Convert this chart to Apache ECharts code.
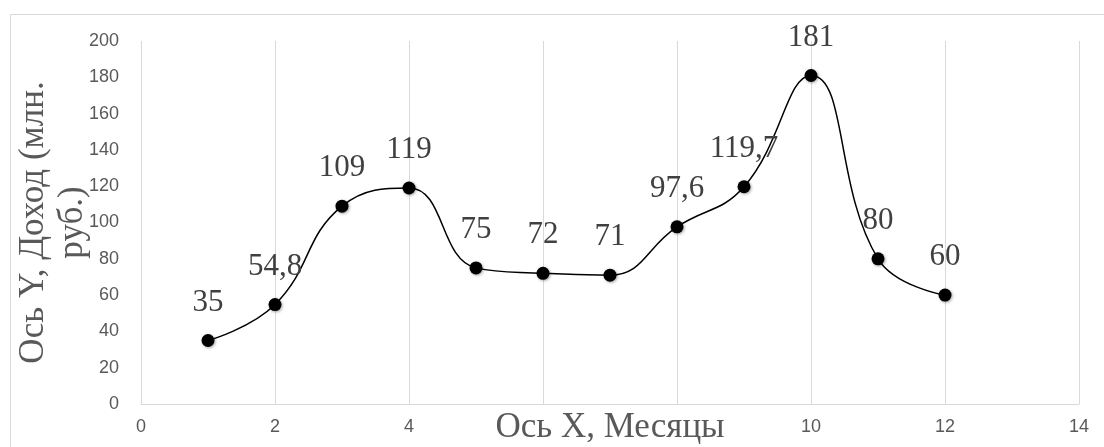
<!DOCTYPE html>
<html>
<head>
<meta charset="utf-8">
<script src="https://cdn.jsdelivr.net/npm/echarts@6/dist/echarts.min.js"></script>
<style>
  html, body { margin: 0; padding: 0; background: #fff; }
  #chart { width: 1104px; height: 447px; }
</style>
</head>
<body>
<div id="chart"></div>
<script>
// months and income
const months = [1, 2, 3, 4, 5, 6, 7, 8, 9, 10, 11, 12];
const income = [35, 54.8, 109, 119, 75, 72, 71, 97.6, 119.7, 181, 80, 60];

const xName = 'Ось X, Месяцы';
const yName = 'Ось Y, Доход (млн.\nруб.)';

const gridColor = '#d9d9d9';
const textColor = '#595959';

const points = months.map((m, i) => [m, income[i]]);

const chart = echarts.init(document.getElementById('chart'), null, { renderer: 'canvas' });

chart.setOption({
  backgroundColor: '#fff',
  animation: false,
  graphic: [{
    type: 'rect',
    left: 8,
    top: 12,
    shape: { width: 1200, height: 500 },
    style: { fill: 'none', stroke: gridColor, lineWidth: 1 },
    silent: true
  }, {
    // x axis title sits over the tick labels, like in the original
    type: 'text',
    x: 610,
    y: 408,
    z: 100,
    style: {
      text: xName,
      font: '35px "Liberation Serif"',
      fill: textColor,
      align: 'center',
      verticalAlign: 'top',
      backgroundColor: '#fff',
      padding: [2, 14, 0, 14]
    },
    silent: true
  }],
  grid: { left: 141, right: 25, top: 41, bottom: 43, containLabel: false, outerBoundsMode: 'none' },
  xAxis: {
    type: 'value',
    min: 0,
    max: 14,
    interval: 2,
    axisLine: { show: true, lineStyle: { color: gridColor, width: 1 } },
    axisTick: { show: false },
    axisLabel: { color: textColor, fontFamily: 'Liberation Sans', fontSize: 18, margin: 14 },
    splitLine: { show: true, lineStyle: { color: gridColor, width: 1 } }
  },
  yAxis: {
    type: 'value',
    min: 0,
    max: 200,
    interval: 20,
    name: yName,
    nameLocation: 'middle',
    nameRotate: 90,
    nameGap: 49,
    nameMoveOverlap: false,
    nameTextStyle: {
      fontFamily: 'Liberation Serif',
      fontSize: 35,
      lineHeight: 39,
      color: textColor,
      align: 'center'
    },
    axisLine: { show: false },
    axisTick: { show: false },
    axisLabel: { color: textColor, fontFamily: 'Liberation Sans', fontSize: 18, margin: 22 },
    splitLine: { show: false }
  },
  series: [{
    type: 'line',
    data: points,
    smooth: 0.45,
    symbol: 'circle',
    symbolSize: 13,
    lineStyle: { color: '#000', width: 1.5 },
    itemStyle: { color: '#000', shadowColor: 'rgba(0,0,0,0.35)', shadowBlur: 3, shadowOffsetX: 1, shadowOffsetY: 1 },
    label: {
      show: true,
      position: 'top',
      distance: 16,
      fontFamily: 'Liberation Serif',
      fontSize: 31,
      color: '#404040',
      formatter: p => String(p.value[1]).replace('.', ',')
    }
  }]
});
</script>
</body>
</html>
